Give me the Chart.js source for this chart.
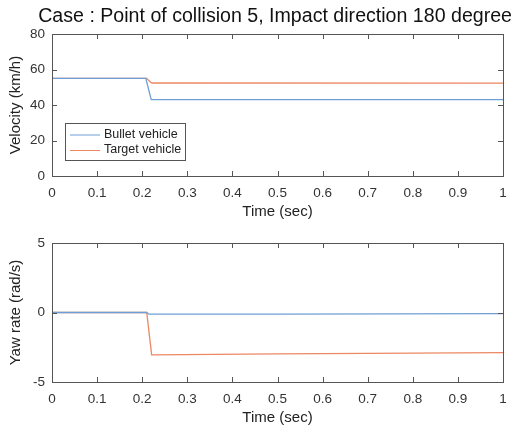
<!DOCTYPE html>
<html>
<head>
<meta charset="utf-8">
<script src="https://cdn.jsdelivr.net/npm/chart.js@4.4.1/dist/chart.umd.min.js"></script>
<style>
  html, body { margin: 0; padding: 0; background: #fff; }
  canvas { display: block; }
</style>
</head>
<body>
<canvas id="velChart" width="518" height="222"></canvas>
<canvas id="yawChart" width="518" height="206"></canvas>
<script>
// values
const seriesNames = ["Bullet vehicle", "Target vehicle"];
const timeTicks = [0, 0.1, 0.2, 0.3, 0.4, 0.5, 0.6, 0.7, 0.8, 0.9, 1];
const velTicks = [0, 20, 40, 60, 80];
const yawTicks = [-5, 0, 5];

const bulletVelTime = [0, 0.208, 0.22, 1];
const bulletVel = [55, 55, 43, 43];
const targetVelTime = [0, 0.21, 0.218, 0.222, 1];
const targetVel = [55, 55, 53, 52.4, 52.3];

const bulletYawTime = [0, 0.21, 0.215, 0.5, 1];
const bulletYaw = [0, 0, -0.12, -0.11, -0.08];
const targetYawTime = [0, 0.21, 0.221, 0.5, 1];
const targetYaw = [0, 0, -3.05, -2.98, -2.88];

const blue = "#6d9fd6";
const orange = "#ec8862";
const fontFamily = "'Liberation Sans', Arial, sans-serif";

Chart.defaults.font.family = fontFamily;
Chart.defaults.color = "#333";

const pts = (xs, ys) => xs.map((x, i) => ({ x: x, y: ys[i] }));

// MATLAB style: box around the axes and ticks pointing inwards
const boxTicks = {
  id: "boxTicks",
  afterDatasetsDraw(chart) {
    const c = chart.ctx;
    const a = chart.chartArea;
    const xs = chart.scales.x, ys = chart.scales.y;
    c.save();
    c.strokeStyle = "#555";
    c.lineWidth = 1;
    c.beginPath();
    xs.ticks.forEach(t => {
      const px = Math.round(xs.getPixelForValue(t.value)) + 0.5;
      c.moveTo(px, a.bottom); c.lineTo(px, a.bottom - 5);
      c.moveTo(px, a.top); c.lineTo(px, a.top + 5);
    });
    ys.ticks.forEach(t => {
      const py = Math.round(ys.getPixelForValue(t.value)) + 0.5;
      c.moveTo(a.left, py); c.lineTo(a.left + 5, py);
      c.moveTo(a.right, py); c.lineTo(a.right - 5, py);
    });
    c.stroke();
    c.strokeRect(Math.round(a.left) + 0.5, Math.round(a.top) + 0.5,
      Math.round(a.right - a.left), Math.round(a.bottom - a.top));
    c.restore();
  }
};

// legend box drawn inside the plot area (bottom-left)
const insideLegend = {
  id: "insideLegend",
  afterDraw(chart, args, opts) {
    if (!opts.show) return;
    const c = chart.ctx;
    const a = chart.chartArea;
    const x0 = a.left + 13, y0 = a.bottom - 53, w = 120, h = 37;
    c.save();
    c.fillStyle = "#fff";
    c.fillRect(x0, y0, w, h);
    c.strokeStyle = "#555";
    c.lineWidth = 1;
    c.strokeRect(x0 + 0.5, y0 + 0.5, w, h);
    c.font = "12.5px " + fontFamily;
    c.textBaseline = "middle";
    chart.data.datasets.forEach((ds, i) => {
      const yy = y0 + 11.5 + i * 15.5;
      c.strokeStyle = ds.borderColor;
      c.beginPath();
      c.moveTo(x0 + 5, yy + 0.5);
      c.lineTo(x0 + 35, yy + 0.5);
      c.stroke();
      c.fillStyle = "#222";
      c.fillText(ds.label, x0 + 39, yy);
    });
    c.restore();
  }
};

function makeChart(id, opts) {
  return new Chart(document.getElementById(id), {
    type: "scatter",
    data: {
      datasets: [
        { label: seriesNames[0], data: opts.bullet, borderColor: blue },
        { label: seriesNames[1], data: opts.target, borderColor: orange }
      ].map(d => Object.assign(d, {
        showLine: true, pointRadius: 0, borderWidth: 1.3, fill: false, tension: 0
      }))
    },
    options: {
      responsive: false,
      animation: false,
      layout: { padding: { top: opts.padTop, right: 6, left: 0, bottom: 0 } },
      plugins: {
        legend: { display: false },
        tooltip: { enabled: false },
        title: {
          display: !!opts.title,
          text: opts.title,
          align: "end",
          color: "#111",
          font: { size: 19.6, weight: "normal" },
          padding: { top: 5, bottom: 5.5 }
        },
        insideLegend: { show: !!opts.legend }
      },
      scales: {
        x: {
          type: "linear",
          min: 0, max: 1,
          afterBuildTicks: s => { s.ticks = timeTicks.map(v => ({ value: v })); },
          afterFit: s => { s.height = 46; },
          grid: { display: false, drawTicks: false },
          border: { display: false },
          ticks: {
            padding: 9,
            font: { size: 13.5 },
            color: "#333",
            callback: v => String(Math.round(v * 10) / 10)
          },
          title: { display: true, text: "Time (sec)", font: { size: 15 }, color: "#222", padding: { top: 4, bottom: 1 } }
        },
        y: {
          type: "linear",
          min: opts.yTicks[0], max: opts.yTicks[opts.yTicks.length - 1],
          afterBuildTicks: s => { s.ticks = opts.yTicks.map(v => ({ value: v })); },
          afterFit: s => { s.width = 52; },
          grid: { display: false, drawTicks: false },
          border: { display: false },
          ticks: { padding: 7, font: { size: 13.5 }, color: "#333" },
          title: { display: true, text: opts.yTitle, font: { size: 15 }, color: "#222", padding: { top: 7, bottom: 0 } }
        },
        // empty strip on the right so the plot box ends where it does in the figure
        yRight: {
          type: "linear",
          position: "right",
          min: 0, max: 1,
          afterFit: s => { s.width = 9; },
          grid: { display: false, drawTicks: false },
          border: { display: false },
          ticks: { display: false }
        }
      }
    },
    plugins: [boxTicks, insideLegend]
  });
}

makeChart("velChart", {
  title: "Case : Point of collision 5, Impact direction 180 degree",
  padTop: 0,
  legend: true,
  yTicks: velTicks,
  yTitle: "Velocity (km/h)",
  bullet: pts(bulletVelTime, bulletVel),
  target: pts(targetVelTime, targetVel)
});

makeChart("yawChart", {
  title: "",
  padTop: 21,
  legend: false,
  yTicks: yawTicks,
  yTitle: "Yaw rate (rad/s)",
  bullet: pts(bulletYawTime, bulletYaw),
  target: pts(targetYawTime, targetYaw)
});
</script>
</body>
</html>
